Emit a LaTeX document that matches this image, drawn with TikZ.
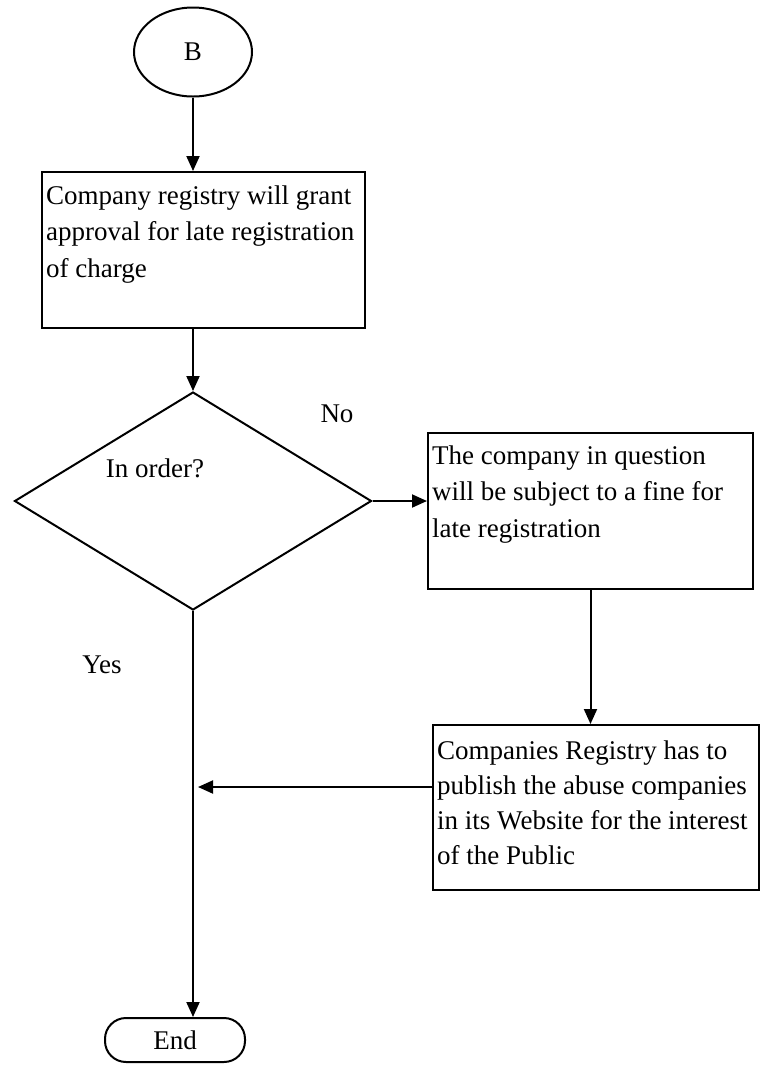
\documentclass[tikz,border=0pt]{standalone}
\usepackage{fontspec}
\setmainfont{Liberation Serif}
\usetikzlibrary{shapes.geometric,arrows.meta,calc}
\begin{document}
\begin{tikzpicture}[x=1pt,y=-1pt,
  every node/.style={font=\fontsize{27}{36.5}\selectfont},
  base/.style={draw,line width=2pt},
  procbox/.style={base,rectangle,inner sep=0pt},
  boxtext/.style={anchor=north west,inner sep=0pt,align=left},
  arr/.style={line width=2pt,-{Triangle[length=15pt,width=13pt]}},
  lbl/.style={inner sep=0pt}]
\useasboundingbox (0,0) rectangle (762,1072);

\node[base,ellipse,minimum width=118pt,minimum height=89pt,inner sep=0pt] (B) at (193,52) {B};

\node[procbox,minimum width=323pt,minimum height=156pt] (box1) at (203.5,250) {};
\node[boxtext] (t1) at ($(box1.north west)+(5,14.5)$) {Company registry will grant\\approval for late registration\\of charge};

\node[base,diamond,minimum width=357pt,minimum height=218pt,aspect=1.64,inner sep=0pt] (dia) at (193,501) {};
\node[lbl,anchor=base] (q) at (155,477) {In order?};
\node[lbl,anchor=base] (no) at (337,422) {No};
\node[lbl,anchor=base] (yes) at (102,673) {Yes};

\node[procbox,minimum width=325pt,minimum height=156pt] (box2) at (590.5,511) {};
\node[boxtext] (t2) at ($(box2.north west)+(5,13.5)$) {The company in question\\will be subject to a fine for\\late registration};

\node[procbox,minimum width=326pt,minimum height=165pt] (box3) at (596,807.5) {};
\node[boxtext,font=\fontsize{27}{35}\selectfont] (t3) at ($(box3.north west)+(5,16.5)$) {Companies Registry has to\\publish the abuse companies\\in its Website for the interest\\of the Public};

\node[base,rectangle,rounded corners=21pt,minimum width=140pt,minimum height=44pt,inner sep=0pt] (endn) at (175,1040) {End};

\coordinate (j) at (198,787);

\draw[arr] (B.south) -- (B.south |- box1.north);
\draw[arr] (B.south |- box1.south) -- (dia.north);
\draw[arr] (dia.east) -- (dia.east -| box2.west);
\draw[arr] (box2.south) -- (box2.south |- box3.north);
\draw[arr] (j -| box3.west) -- (j);
\draw[arr] (dia.south) -- (dia.south |- endn.north);
\end{tikzpicture}
\end{document}
